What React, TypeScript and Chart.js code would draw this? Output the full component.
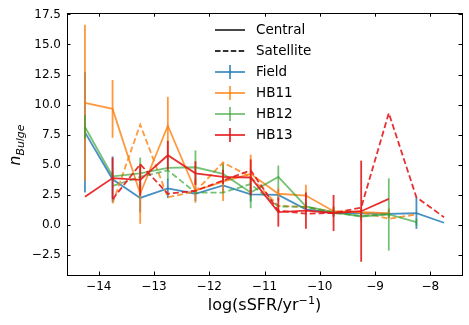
import React, { useEffect, useRef } from "react";
import { Chart, registerables } from "chart.js";
Chart.register(...registerables);

const xBins = [-14.25, -13.75, -13.25, -12.75, -12.25, -11.75, -11.25, -10.75, -10.25, -9.75, -9.25, -8.75, -8.25, -7.75];
const xTicks = [-14, -13, -12, -11, -10, -9, -8];
const yTicks = [-2.5, 0, 2.5, 5, 7.5, 10, 12.5, 15, 17.5];

const fieldCentral = [7.7, 3.8, 2.25, 3.05, 2.6, 3.3, 2.55, 2.5, 1.3, 1.0, 0.98, 0.93, 0.98, 0.19];
const fieldCentralErr = [5.0, 1.9, 1.2, 0.8, 0.6, 0.6, 0.6, 0.5, 0.3, 0.3, 0.3, 0.3, 1.3, 0];

const hb11Central = [10.15, 9.65, 2.6, 8.25, 2.85, 3.6, 4.25, 2.6, 2.45, 1.15, 1.07, 0.98, null, null];
const hb11CentralErr = [6.5, 2.4, 2.5, 2.4, 1.0, 1.6, 1.6, 0.5, 0.9, 0.4, 0.4, 0.4, 0, 0];
const hb11Satellite = [null, 1.8, 8.35, 2.3, 2.8, 5.2, 4.0, 1.6, 1.5, 1.1, 1.05, 0.52, 0.88, null];

const hb12Central = [8.15, 4.05, 4.3, 4.75, 4.8, 4.25, 2.7, 4.0, 1.55, 1.07, 0.71, 0.88, 0.24, null];
const hb12CentralErr = [1.0, 0.4, 1.3, 1.0, 1.4, 0.8, 1.3, 0.95, 0.4, 0.4, 0.4, 3.0, 0.3, 0];
const hb12Satellite = [null, 3.25, 4.0, 4.55, 2.7, 2.7, 3.4, 1.55, 1.5, 1.0, 0.75, 0.9, null, null];

const hb13Central = [2.35, 3.9, 3.75, 5.8, 4.3, 4.0, 3.95, 1.07, 1.2, 1.0, 1.15, 2.17, null, null];
const hb13CentralErr = [0, 1.7, 1.3, 1.2, 1.0, 0.6, 1.5, 1.2, 1.5, 1.5, 4.2, 0, 0, 0];
const hb13Satellite = [null, 2.15, 5.05, 2.6, 2.85, 3.7, 4.55, 1.2, 0.95, 1.0, 1.45, 9.3, 2.3, 0.65];

const COLORS = {
  blue: "rgba(31,119,180,0.82)",
  orange: "rgba(255,127,14,0.8)",
  green: "rgba(44,160,44,0.65)",
  red: "rgba(228,26,28,0.9)",
  black: "rgba(0,0,0,0.8)",
};

const FONT = "'DejaVu Sans', sans-serif";
const LW = 1.8;
const DASH = [6, 3];

const errorBarPlugin = {
  id: "errbars",
  afterDatasetDraw(chart: any, args: any) {
    const ds = chart.data.datasets[args.index];
    if (!ds.errs) return;
    const { ctx, scales } = chart;
    const xs = scales.x, ys = scales.y;
    ctx.save();
    ctx.strokeStyle = ds.borderColor;
    ctx.lineWidth = LW;
    ctx.setLineDash([]);
    ds.data.forEach((p: any, i: number) => {
      const e = ds.errs[i];
      if (p.y == null || !e) return;
      const px = xs.getPixelForValue(p.x);
      ctx.beginPath();
      ctx.moveTo(px, ys.getPixelForValue(p.y - e));
      ctx.lineTo(px, ys.getPixelForValue(p.y + e));
      ctx.stroke();
    });
    ctx.restore();
  },
};

const framePlugin = {
  id: "frame",
  afterDraw(chart: any) {
    const { ctx, chartArea: a, scales } = chart;
    ctx.save();
    ctx.strokeStyle = "#000";
    ctx.lineWidth = 1;
    ctx.setLineDash([]);
    ctx.strokeRect(Math.round(a.left) + 0.5, Math.round(a.top) + 0.5, Math.round(a.right - a.left), Math.round(a.bottom - a.top));
    const L = 3.5;
    ctx.beginPath();
    xTicks.forEach((v) => {
      const px = Math.round(scales.x.getPixelForValue(v)) + 0.5;
      ctx.moveTo(px, a.bottom); ctx.lineTo(px, a.bottom - L);
      ctx.moveTo(px, a.top); ctx.lineTo(px, a.top + L);
    });
    yTicks.forEach((v) => {
      const py = Math.round(scales.y.getPixelForValue(v)) + 0.5;
      ctx.moveTo(a.left, py); ctx.lineTo(a.left + L, py);
      ctx.moveTo(a.right, py); ctx.lineTo(a.right - L, py);
    });
    ctx.stroke();

    // axis titles
    ctx.fillStyle = "#000";
    ctx.textBaseline = "alphabetic";
    ctx.textAlign = "left";
    const cx = (a.left + a.right) / 2;
    const main = "log(sSFR/yr";
    const sup = "\u22121";
    const close = ")";
    ctx.font = `16px ${FONT}`;
    const w1 = ctx.measureText(main).width;
    const w3 = ctx.measureText(close).width;
    ctx.font = `11.2px ${FONT}`;
    const w2 = ctx.measureText(sup).width;
    const total = w1 + w2 + w3;
    const x0 = cx - total / 2;
    const by = 310;
    ctx.font = `16px ${FONT}`;
    ctx.fillText(main, x0, by);
    ctx.font = `11.2px ${FONT}`;
    ctx.fillText(sup, x0 + w1, by - 6.5);
    ctx.font = `16px ${FONT}`;
    ctx.fillText(close, x0 + w1 + w2, by);

    // y title
    ctx.save();
    ctx.translate(20, 145);
    ctx.rotate(-Math.PI / 2);
    ctx.font = `italic 15.5px ${FONT}`;
    const n = "n";
    const wn = ctx.measureText(n).width;
    ctx.font = `italic 10.9px ${FONT}`;
    const sub = "Bulge";
    const ws = ctx.measureText(sub).width;
    const yt = wn + ws;
    ctx.font = `italic 15.5px ${FONT}`;
    ctx.fillText(n, -yt / 2, 0);
    ctx.font = `italic 10.9px ${FONT}`;
    ctx.fillText(sub, -yt / 2 + wn, 3.5);
    ctx.restore();

    // legend
    const rows = [
      { label: "Central", color: COLORS.black, dash: false, bar: false },
      { label: "Satellite", color: COLORS.black, dash: true, bar: false },
      { label: "Field", color: COLORS.blue, dash: false, bar: true },
      { label: "HB11", color: COLORS.orange, dash: false, bar: true },
      { label: "HB12", color: COLORS.green, dash: false, bar: true },
      { label: "HB13", color: COLORS.red, dash: false, bar: true },
    ];
    ctx.font = `13.5px ${FONT}`;
    ctx.textBaseline = "middle";
    rows.forEach((r, i) => {
      const y = 30 + i * 21;
      ctx.strokeStyle = r.color;
      ctx.lineWidth = LW;
      ctx.setLineDash(r.dash ? [5.5, 2.4] : []);
      ctx.beginPath();
      ctx.moveTo(215, y);
      ctx.lineTo(245, y);
      ctx.stroke();
      ctx.setLineDash([]);
      if (r.bar) {
        ctx.beginPath();
        ctx.moveTo(230, y - 7);
        ctx.lineTo(230, y + 7);
        ctx.stroke();
      }
      ctx.fillStyle = "#000";
      ctx.fillText(r.label, 256, y + 0.5);
    });
    ctx.restore();
  },
};

function mk(label: string, ys: (number | null)[], errs: number[] | null, color: string, dashed: boolean, order: number) {
  return {
    label,
    data: xBins.map((x, i) => ({ x, y: ys[i] })),
    errs,
    borderColor: color,
    backgroundColor: color,
    borderWidth: LW,
    borderDash: dashed ? DASH : [],
    pointRadius: 0,
    pointHoverRadius: 0,
    fill: false,
    tension: 0,
    spanGaps: false,
    order,
  };
}

export default function App() {
  const ref = useRef<HTMLCanvasElement>(null);
  useEffect(() => {
    document.body.style.margin = "0";
    const canvas = ref.current!;
    const chart = new Chart(canvas, {
      type: "line",
      data: {
        datasets: [
          mk("Field", fieldCentral, fieldCentralErr, COLORS.blue, false, 7),
          mk("HB11", hb11Central, hb11CentralErr, COLORS.orange, false, 6),
          mk("HB11 sat", hb11Satellite, null, COLORS.orange, true, 5),
          mk("HB12", hb12Central, hb12CentralErr, COLORS.green, false, 4),
          mk("HB12 sat", hb12Satellite, null, COLORS.green, true, 3),
          mk("HB13", hb13Central, hb13CentralErr, COLORS.red, false, 2),
          mk("HB13 sat", hb13Satellite, null, COLORS.red, true, 1),
        ] as any,
      },
      options: {
        animation: false,
        responsive: true,
        maintainAspectRatio: false,
        layout: { padding: { left: 0, right: 7, top: 12, bottom: 0 } },
        plugins: { legend: { display: false }, tooltip: { enabled: false } },
        events: [],
        scales: {
          x: {
            type: "linear",
            min: -14.575,
            max: -7.425,
            afterFit: (s: any) => { s.height = 50; },
            afterBuildTicks: (s: any) => { s.ticks = xTicks.map((v) => ({ value: v })); },
            grid: { display: false, drawTicks: false },
            border: { display: false },
            ticks: {
              padding: 5,
              color: "#000",
              font: { family: FONT, size: 12 },
              maxRotation: 0,
              autoSkip: false,
              callback: (v: any) => (v < 0 ? "\u2212" : "") + Math.abs(v).toFixed(0),
            },
          },
          y: {
            type: "linear",
            min: -4.15,
            max: 17.6,
            afterFit: (s: any) => { s.width = 67; },
            afterBuildTicks: (s: any) => { s.ticks = yTicks.map((v) => ({ value: v })); },
            grid: { display: false, drawTicks: false },
            border: { display: false },
            ticks: {
              padding: 6,
              color: "#000",
              font: { family: FONT, size: 12 },
              autoSkip: false,
              callback: (v: any) => (v < 0 ? "\u2212" : "") + Math.abs(v).toFixed(1),
            },
          },
        },
      },
      plugins: [errorBarPlugin, framePlugin],
    } as any);
    return () => chart.destroy();
  }, []);
  return (
    <div style={{ position: "fixed", left: 0, top: 0, width: 469, height: 325 }}>
      <canvas ref={ref} />
    </div>
  );
}
